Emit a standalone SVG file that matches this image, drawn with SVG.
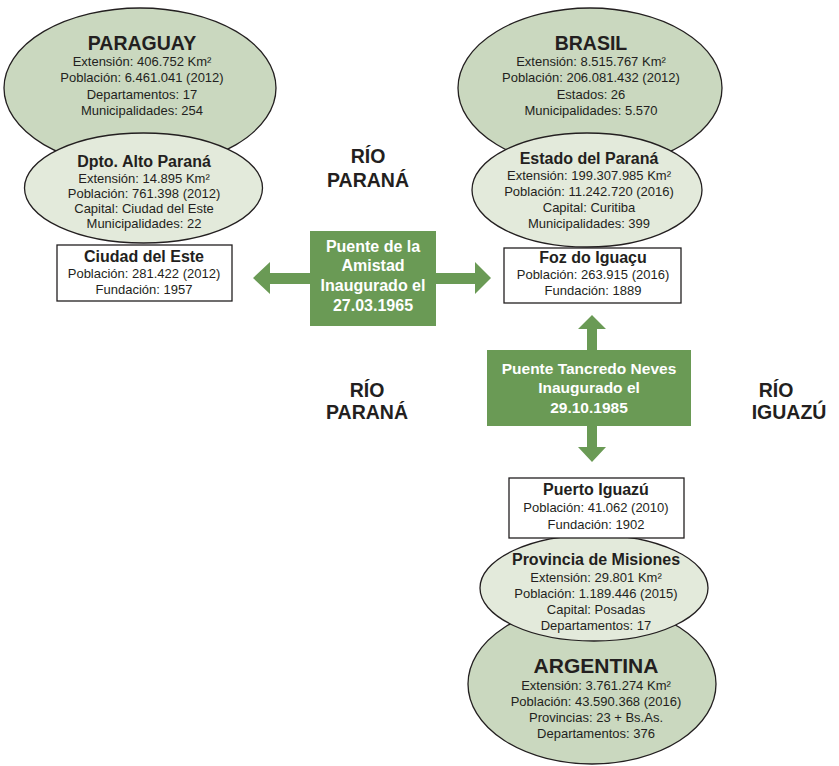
<svg xmlns="http://www.w3.org/2000/svg" width="839" height="766" viewBox="0 0 839 766">
<style>
.big{fill:#cad8bf;stroke:#231f20;stroke-width:1.3}
.small{fill:#e3eadb;stroke:#231f20;stroke-width:1.3}
.box{fill:#ffffff;stroke:#231f20;stroke-width:1.3}
.green{fill:#6a9a55}
text{font-family:"Liberation Sans",Arial,sans-serif;fill:#231f20;text-anchor:middle}
.t1{font-size:19.5px;font-weight:bold}
.t2{font-size:16px;font-weight:bold}
.b{font-size:13px}
.riv{font-size:19.5px;font-weight:bold}
.w{font-size:16px;font-weight:bold;fill:#ffffff}
</style>
<rect width="839" height="766" fill="#ffffff"/>
<g id="paraguay">
<ellipse class="big" cx="140" cy="88" rx="136" ry="80"/>
<text class="t1" x="142" y="50">PARAGUAY</text>
<text class="b" x="142" y="66">Extensión: 406.752 Km²</text>
<text class="b" x="142" y="82">Población: 6.461.041 (2012)</text>
<text class="b" x="142" y="99">Departamentos: 17</text>
<text class="b" x="142" y="115">Municipalidades: 254</text>
</g>
<g id="alto-parana">
<ellipse class="small" cx="143.5" cy="188" rx="119" ry="55"/>
<text class="t2" x="144" y="167">Dpto. Alto Paraná</text>
<text class="b" x="144" y="183">Extensión: 14.895 Km²</text>
<text class="b" x="144" y="198">Población: 761.398 (2012)</text>
<text class="b" x="144" y="213">Capital: Ciudad del Este</text>
<text class="b" x="144" y="228">Municipalidades: 22</text>
</g>
<g id="ciudad-del-este">
<rect class="box" x="57" y="245" width="175" height="56"/>
<text class="t2" x="144" y="262">Ciudad del Este</text>
<text class="b" x="144" y="278">Población: 281.422 (2012)</text>
<text class="b" x="144" y="294">Fundación: 1957</text>
</g>
<g id="brasil">
<ellipse class="big" cx="590" cy="88" rx="132" ry="80"/>
<text class="t1" x="591" y="50">BRASIL</text>
<text class="b" x="591" y="66">Extensión: 8.515.767 Km²</text>
<text class="b" x="591" y="82">Población: 206.081.432 (2012)</text>
<text class="b" x="591" y="99">Estados: 26</text>
<text class="b" x="591" y="115">Municipalidades: 5.570</text>
</g>
<g id="estado-parana">
<ellipse class="small" cx="587" cy="190" rx="115" ry="57"/>
<text class="t2" x="589" y="164">Estado del Paraná</text>
<text class="b" x="589" y="180">Extensión: 199.307.985 Km²</text>
<text class="b" x="589" y="196">Población: 11.242.720 (2016)</text>
<text class="b" x="589" y="212">Capital: Curitiba</text>
<text class="b" x="589" y="228">Municipalidades: 399</text>
</g>
<g id="foz-do-iguacu">
<rect class="box" x="504" y="248" width="177" height="55"/>
<text class="t2" x="593" y="263">Foz do Iguaçu</text>
<text class="b" x="593" y="279">Población: 263.915 (2016)</text>
<text class="b" x="593" y="295">Fundación: 1889</text>
</g>
<g id="argentina">
<ellipse class="big" cx="592" cy="684" rx="124" ry="80"/>
<text class="t1" x="596" y="673" style="font-size:21px">ARGENTINA</text>
<text class="b" x="596" y="690">Extensión: 3.761.274 Km²</text>
<text class="b" x="596" y="706">Población: 43.590.368 (2016)</text>
<text class="b" x="596" y="722">Provincias: 23 + Bs.As.</text>
<text class="b" x="596" y="738">Departamentos: 376</text>
</g>
<g id="misiones">
<ellipse class="small" cx="594" cy="588" rx="114" ry="53"/>
<text class="t2" x="596" y="565">Provincia de Misiones</text>
<text class="b" x="596" y="582">Extensión: 29.801 Km²</text>
<text class="b" x="596" y="598">Población: 1.189.446 (2015)</text>
<text class="b" x="596" y="614">Capital: Posadas</text>
<text class="b" x="596" y="630">Departamentos: 17</text>
</g>
<g id="puerto-iguazu">
<rect class="box" x="509" y="478" width="175" height="60"/>
<text class="t2" x="596" y="495">Puerto Iguazú</text>
<text class="b" x="596" y="512">Población: 41.062 (2010)</text>
<text class="b" x="596" y="529">Fundación: 1902</text>
</g>
<g id="connectors">
<polygon class="green" points="253,278 270,262 270,273 310,273 310,284 270,284 270,294"/>
<polygon class="green" points="436,273 475,273 475,262 491,278 475,294 475,284 436,284"/>
<polygon class="green" points="592,315 606,329 597,329 597,350 587,350 587,329 578,329"/>
<polygon class="green" points="587,426 597,426 597,447 606,447 592,462 578,447 587,447"/>
</g>
<g id="puente-amistad">
<rect class="green" x="310" y="231" width="126" height="95"/>
<text class="w" x="373" y="252">Puente de la</text>
<text class="w" x="373" y="271">Amistad</text>
<text class="w" x="373" y="291">Inaugurado el</text>
<text class="w" x="373" y="311">27.03.1965</text>
</g>
<g id="puente-tancredo">
<rect class="green" x="487" y="350" width="204" height="76"/>
<text class="w" x="589" y="374" style="font-size:15.5px">Puente Tancredo Neves</text>
<text class="w" x="589" y="393" style="font-size:15.5px">Inaugurado el</text>
<text class="w" x="589" y="413" style="font-size:15.5px">29.10.1985</text>
</g>
<g id="rivers">
<text class="riv" x="368" y="163">RÍO</text>
<text class="riv" x="368" y="187">PARANÁ</text>
<text class="riv" x="367" y="397">RÍO</text>
<text class="riv" x="367" y="419">PARANÁ</text>
<text class="riv" x="776" y="397">RÍO</text>
<text class="riv" x="789" y="419">IGUAZÚ</text>
</g>
</svg>
